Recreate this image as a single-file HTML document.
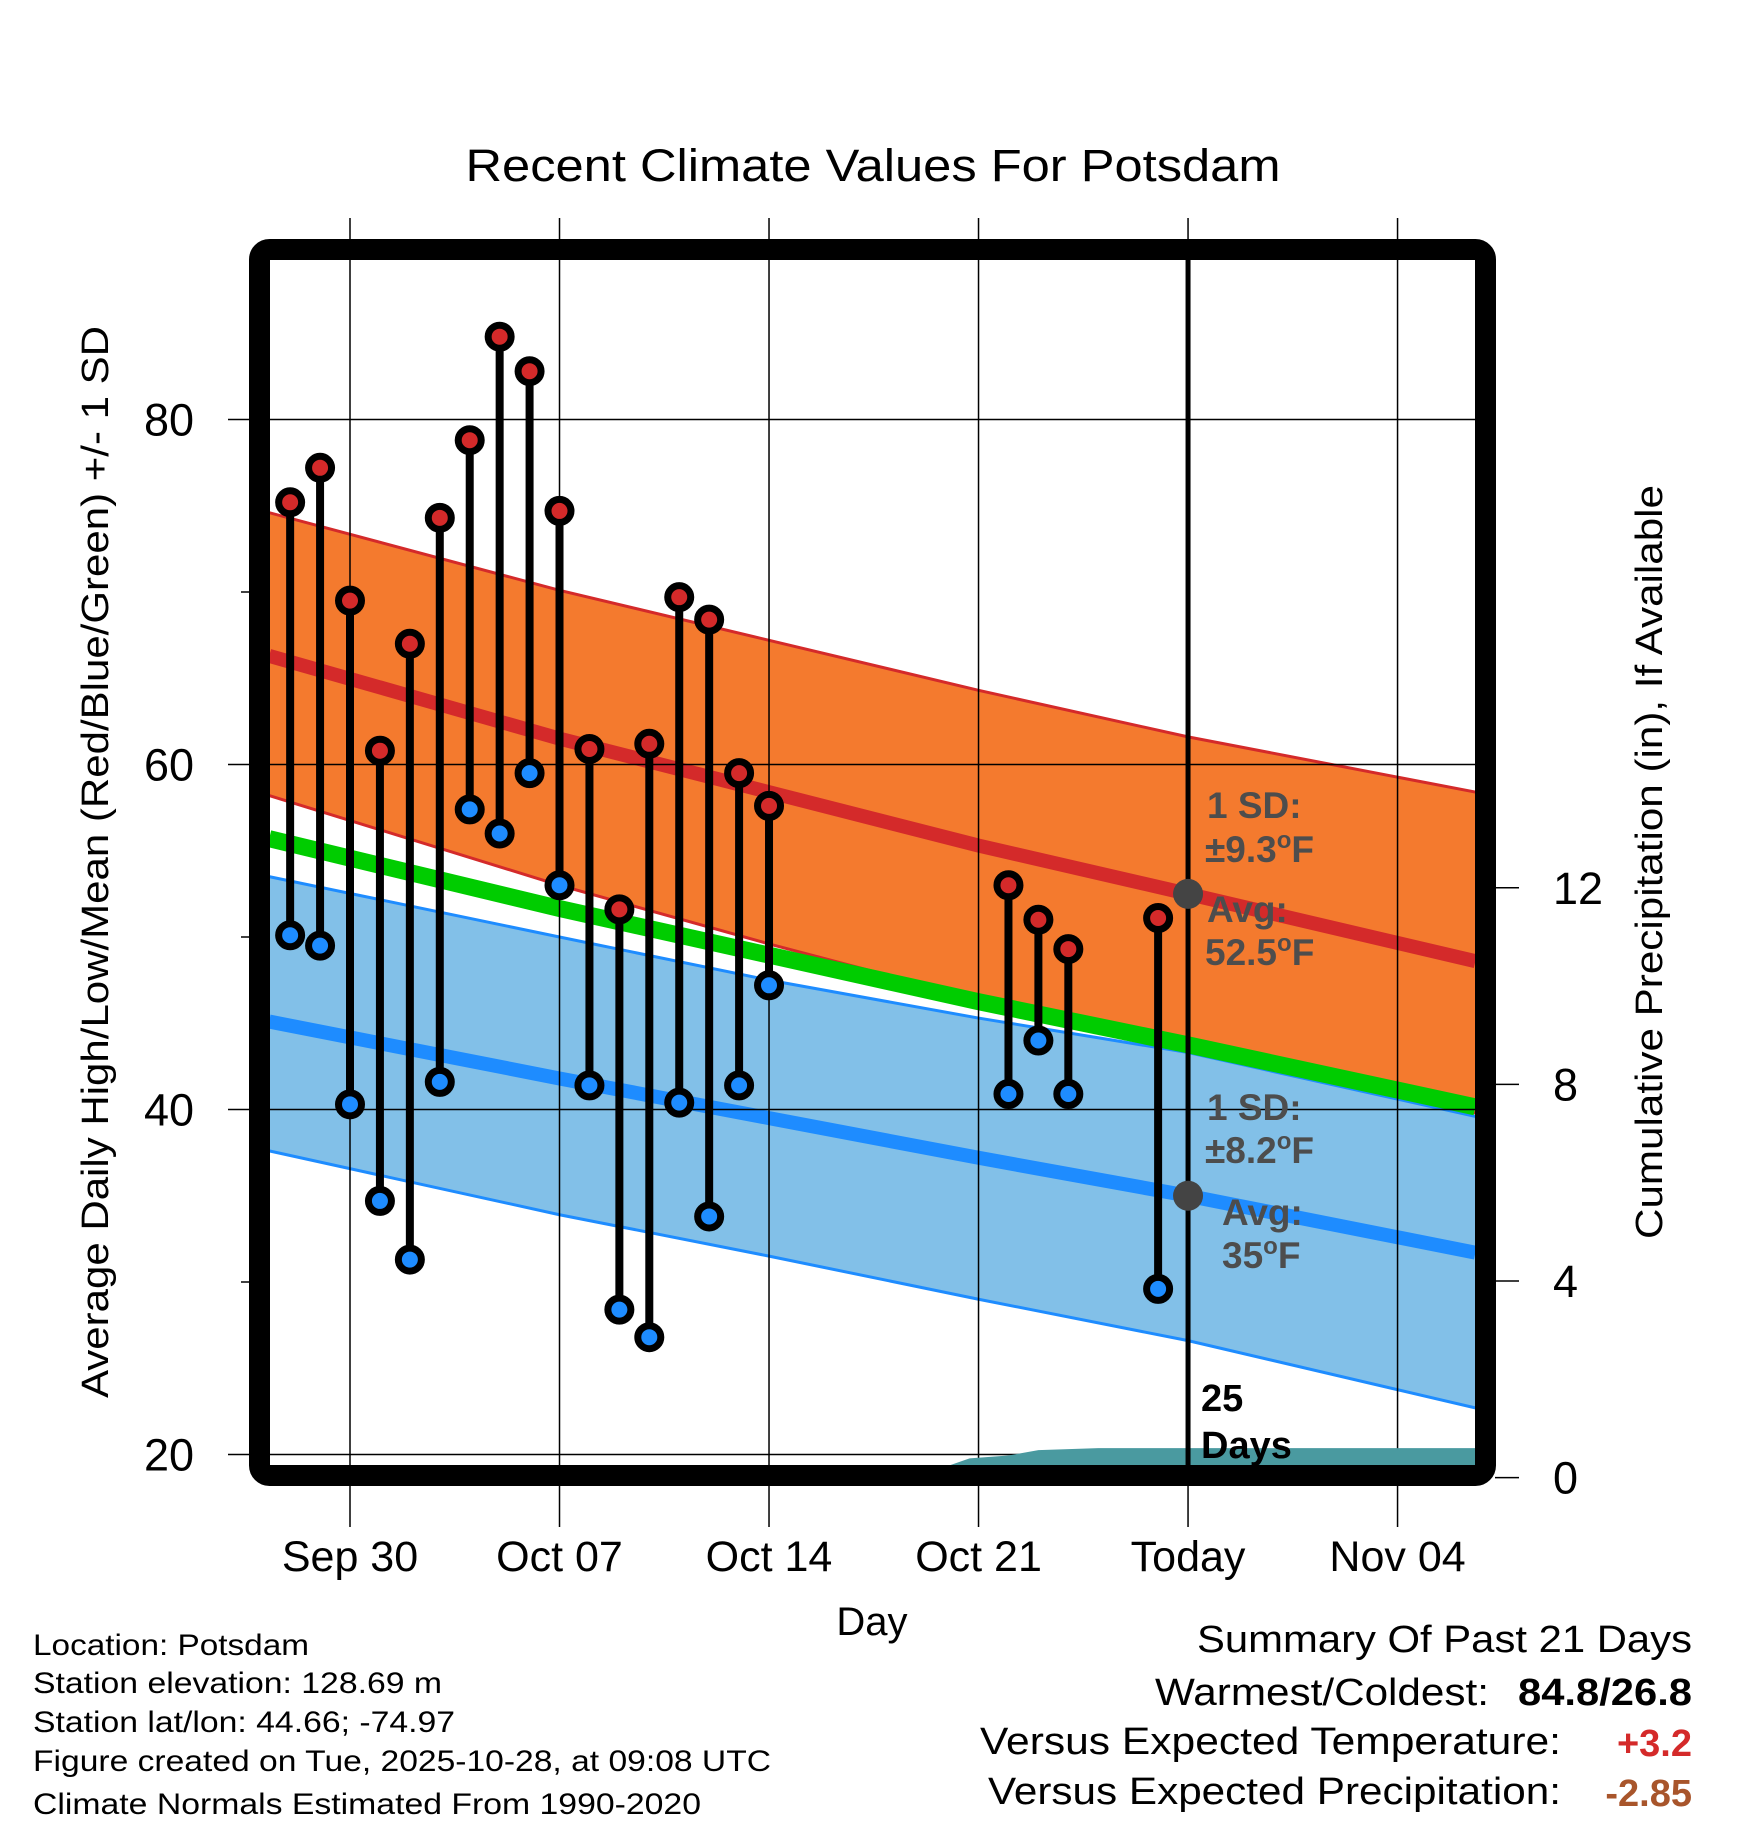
<!DOCTYPE html>
<html><head><meta charset="utf-8"><style>
html,body{margin:0;padding:0;background:#fff}
svg{display:block}
text{font-family:"Liberation Sans",Arial,sans-serif}
</style></head><body>
<svg id="chart" width="1748" height="1828" viewBox="0 0 1748 1828" xmlns="http://www.w3.org/2000/svg">
<defs><clipPath id="plotclip"><rect x="270" y="260" width="1205" height="1206"/></clipPath></defs>
<rect width="1748" height="1828" fill="#fff"/>
<text x="873" y="181" font-size="45" text-anchor="middle" textLength="815" lengthAdjust="spacingAndGlyphs">Recent Climate Values For Potsdam</text>
<g id="bands" clip-path="url(#plotclip)"></g>
<g id="grid"></g>
<g id="precip" clip-path="url(#plotclip)"></g>
<g id="marks"></g>
<g id="annot"></g>
<rect x="259.5" y="249.5" width="1226" height="1226" rx="10" fill="none" stroke="#000" stroke-width="21"/>
<g id="axes"></g>
<text transform="translate(108,862) rotate(-90)" font-size="38" text-anchor="middle" textLength="1072" lengthAdjust="spacingAndGlyphs">Average Daily High/Low/Mean (Red/Blue/Green) +/- 1 SD</text>
<text transform="translate(1662,862) rotate(-90)" font-size="38" text-anchor="middle" textLength="754" lengthAdjust="spacingAndGlyphs">Cumulative Precipitation (in), If Available</text>
<text x="872" y="1635" font-size="40" text-anchor="middle">Day</text>
<g font-size="30">
<text x="33" y="1655" textLength="276" lengthAdjust="spacingAndGlyphs">Location: Potsdam</text>
<text x="33" y="1693" textLength="409" lengthAdjust="spacingAndGlyphs">Station elevation: 128.69 m</text>
<text x="33" y="1732" textLength="422" lengthAdjust="spacingAndGlyphs">Station lat/lon: 44.66; -74.97</text>
<text x="33" y="1771" textLength="738" lengthAdjust="spacingAndGlyphs">Figure created on Tue, 2025-10-28, at 09:08 UTC</text>
<text x="33" y="1814" textLength="668" lengthAdjust="spacingAndGlyphs">Climate Normals Estimated From 1990-2020</text>
</g>
<g font-size="38" text-anchor="end">
<text x="1692" y="1652" textLength="495" lengthAdjust="spacingAndGlyphs">Summary Of Past 21 Days</text>
<text x="1489" y="1705" textLength="334" lengthAdjust="spacingAndGlyphs">Warmest/Coldest:</text>
<text x="1692" y="1705" font-weight="bold" textLength="174" lengthAdjust="spacingAndGlyphs">84.8/26.8</text>
<text x="1561" y="1754" textLength="581" lengthAdjust="spacingAndGlyphs">Versus Expected Temperature:</text>
<text x="1692" y="1756" font-weight="bold" fill="#d42a2a">+3.2</text>
<text x="1561" y="1804" textLength="573" lengthAdjust="spacingAndGlyphs">Versus Expected Precipitation:</text>
<text x="1692" y="1806" font-weight="bold" fill="#a8552b">-2.85</text>
</g>
</svg>
<script>
const NS='http://www.w3.org/2000/svg';
// data: day offsets relative to Sep 30
const obsDays=[-2,-1,0,1,2,3,4,5,6,7,8,9,10,11,12,13,14,22,23,24,27];
const obsHigh=[75.2,77.2,69.5,60.8,67.0,74.3,78.8,84.8,82.8,74.7,60.9,51.6,61.2,69.7,68.4,59.5,57.6,53.0,51.0,49.3,51.1];
const obsLow=[50.1,49.5,40.3,34.7,31.3,41.6,57.4,56.0,59.5,53.0,41.4,28.4,26.8,40.4,33.8,41.4,47.2,40.9,44.0,40.9,29.6];
const normDays=[-2.7,7,14,21,28,37.6];
const hiMean=[66.3,61.5,58.4,55.3,52.5,48.6];
const hiUpper=[74.6,70.1,67.2,64.3,61.6,58.4];
const hiLower=[58.2,53.0,49.6,46.4,43.5,39.8];
const loMean=[45.1,41.8,39.5,37.2,35.0,31.7];
const loUpper=[53.5,50.0,47.5,45.3,43.3,39.6];
const loLower=[37.6,33.9,31.5,29.0,26.6,22.7];
const precipDays=[-2.7,11.3,19.8,20.7,22,23,25,37.6];
const precipVals=[0.1,0.2,0.2,0.39,0.45,0.56,0.6,0.6];
const xTickDays=[0,7,14,21,28,35];
const xTickLabels=['Sep 30','Oct 07','Oct 14','Oct 21','Today','Nov 04'];
const yTicks=[20,40,60,80];
const yMinor=[30,50,70];
const y2Ticks=[0,4,8,12];

const X=d=>350+29.93*d;
const Y=v=>419.5+(80-v)*17.25;
const Y2=p=>1477.6-p*49.15;
function el(tag,attrs,parent){const e=document.createElementNS(NS,tag);for(const k in attrs)e.setAttribute(k,attrs[k]);parent.appendChild(e);return e;}
const bands=document.getElementById('bands'),grid=document.getElementById('grid'),precip=document.getElementById('precip'),marks=document.getElementById('marks'),annot=document.getElementById('annot'),axes=document.getElementById('axes');
const line=a=>normDays.map((d,i)=>X(d)+','+Y(a[i])).join(' ');
function band(up,lo,fill,stroke,name){
  const pts=normDays.map((d,i)=>X(d)+','+Y(up[i])).concat(normDays.slice().reverse().map((d,i)=>X(d)+','+Y(lo[lo.length-1-i])));
  const p=el('polygon',{points:pts.join(' '),fill:fill},bands);
  
  
  const a=el('polyline',{points:line(up),fill:'none',stroke:stroke,'stroke-width':3},bands);
  
  
  const b=el('polyline',{points:line(lo),fill:'none',stroke:stroke,'stroke-width':3},bands);
  
  
}
band(loUpper,loLower,'#82c0e8','#1e8cff','low-sd-band');
band(hiUpper,hiLower,'#f47a2e','#d42a2a','high-sd-band');
const avg=hiMean.map((v,i)=>(v+loMean[i])/2);
const g=el('polyline',{points:line(avg),fill:'none',stroke:'#00cc00','stroke-width':17},bands);


const hm=el('polyline',{points:line(hiMean),fill:'none',stroke:'#d42a2a','stroke-width':14},bands);


const lm=el('polyline',{points:line(loMean),fill:'none',stroke:'#1e8cff','stroke-width':14},bands);



// grid
xTickDays.forEach((d,i)=>{
  const l=el('line',{x1:X(d),x2:X(d),y1:218,y2:1527,stroke:'#000','stroke-width':1.5},grid);
  
  
  const t=el('text',{x:X(d),y:1571,'font-size':43,'text-anchor':'middle'},axes);
  t.textContent=xTickLabels[i];
  
  
});
yTicks.forEach(v=>{
  const l=el('line',{x1:228,x2:1475,y1:Y(v),y2:Y(v),stroke:'#000','stroke-width':1.5},grid);
  
  
  const t=el('text',{x:194,y:Y(v)+16,'font-size':45,'text-anchor':'end'},axes);
  t.textContent=v;
  
  
});
yMinor.forEach(v=>{
  const l=el('line',{x1:241,x2:250,y1:Y(v),y2:Y(v),stroke:'#000','stroke-width':1.5},axes);
  
  
});
y2Ticks.forEach(p=>{
  const l=el('line',{x1:1495,x2:1519,y1:Y2(p),y2:Y2(p),stroke:'#000','stroke-width':1.5},axes);
  
  
  const t=el('text',{x:1553,y:Y2(p)+16,'font-size':45},axes);
  t.textContent=p;
  
  
});

// precip area
const pp=precipDays.map((d,i)=>X(d)+','+Y2(precipVals[i]));
pp.push(X(precipDays[precipDays.length-1])+','+Y2(0));pp.push(X(precipDays[0])+','+Y2(0));
const pa=el('polygon',{points:pp.join(' '),fill:'#4a9aa0'},precip);



// today line
const tl=el('line',{x1:X(28),x2:X(28),y1:258,y2:1468,stroke:'#000','stroke-width':5},marks);



// observations
obsDays.forEach((d,i)=>{
  const x=X(d);
  const s=el('line',{x1:x,x2:x,y1:Y(obsHigh[i]),y2:Y(obsLow[i]),stroke:'#000','stroke-width':8},marks);
  
  
  const h=el('circle',{cx:x,cy:Y(obsHigh[i]),r:11.5,fill:'#d42a2a',stroke:'#000','stroke-width':7},marks);
  
  
  const lo=el('circle',{cx:x,cy:Y(obsLow[i]),r:11.5,fill:'#1e8cff',stroke:'#000','stroke-width':7},marks);
  
  
});

// annotation dots at today
const todayIdx=4;
[[hiMean[todayIdx],'avg-high-dot'],[loMean[todayIdx],'avg-low-dot']].forEach(([v,n])=>{
  const c=el('circle',{cx:X(28),cy:Y(v),r:15,fill:'#444'},annot);
  
  
});
const labels=[['1 SD:','',1207,818],['±9.3','F',1205,862],['Avg:','',1207,922],['52.5','F',1205,965],['1 SD:','',1207,1120],['±8.2','F',1205,1163],['Avg:','',1222,1225],['35','F',1222,1268]];
labels.forEach(([t,u,x,y])=>{
  const e=el('text',{x:x,y:y,'font-size':37,'font-weight':'bold',fill:'#4d4d4d'},annot);
  
  
  e.appendChild(document.createTextNode(t));
  if(u){
    const o=el('tspan',{'font-size':24,dy:-14},e);o.textContent='o';
    const f=el('tspan',{dy:14},e);f.textContent=u;
  }
});
[['25',1411],['Days',1458]].forEach(([t,y])=>{
  const e=el('text',{x:1201,y:y,'font-size':38,'font-weight':'bold',fill:'#000'},annot);
  e.textContent=t;
  
  
});
</script>
</body></html>
